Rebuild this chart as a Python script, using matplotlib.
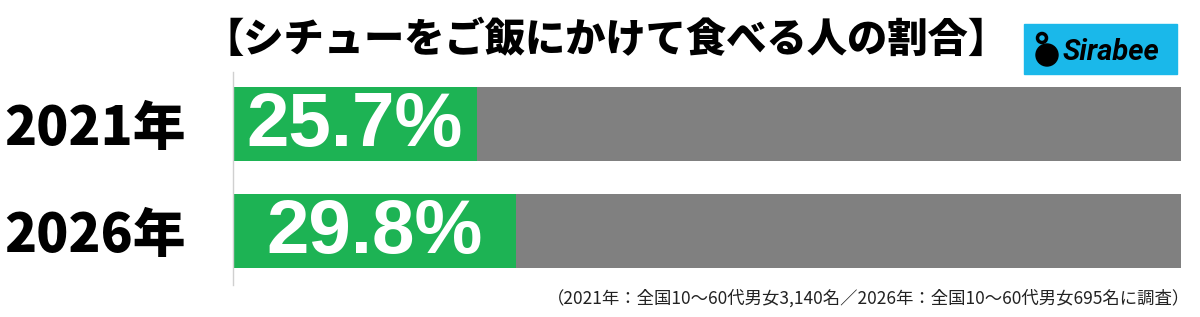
import matplotlib
matplotlib.use("Agg")
import matplotlib.pyplot as plt
from matplotlib.patches import Rectangle, Ellipse

years = ["2021年", "2026年"]
rates = [25.7, 29.8]
total = 100
title = "【シチューをご飯にかけて食べる人の割合】"
note = "（2021年：全国10〜60代男女3,140名／2026年：全国10〜60代男女695名に調査）"

green = "#1db354"
grey = "#808080"

W, H = 1200, 317
fig = plt.figure(figsize=(W / 100, H / 100), dpi=100)
jp = ["Noto Sans CJK JP", "DejaVu Sans"]

# axes placed in pixel units: left edge 233, right 1181, top 72, bottom 285
ax = fig.add_axes([233 / W, 1 - 285 / H, (1181 - 233) / W, (285 - 72) / H])
pos = list(range(len(years)))
ax.barh(pos, [total] * len(years), height=0.7, color=grey)
bars = ax.barh(pos, rates, height=0.7, color=green)
ax.set_xlim(0, total)
ax.set_ylim(1.505, -0.486)

for b, v in zip(bars, rates):
    ax.text(b.get_x() + b.get_width() / 2, b.get_y() + b.get_height() / 2 + 0.02,
            f"{v}%", ha="center", va="center", color="white",
            fontsize=55, fontweight="bold", family="Liberation Sans")

ax.set_yticks(pos)
ax.set_yticklabels(years, fontsize=38, fontweight="heavy", family=jp)
ax.tick_params(axis="y", length=0, pad=34)
ax.set_xticks([])
for s in ["top", "right", "bottom"]:
    ax.spines[s].set_visible(False)
ax.spines["left"].set_color("#d0d0d0")
ax.spines["left"].set_linewidth(1)

fig.text(203 / W, 1 - 40 / H, title, ha="left", va="center",
         fontsize=29, fontweight="heavy", family=jp)

fig.text(1190 / W, 1 - 298 / H, note, ha="right", va="center",
         fontsize=12.5, family=jp, color="#222222")

# Sirabee logo
def dot(x, y, r, **kw):
    fig.patches.append(Ellipse((x / W, 1 - y / H), 2 * r / W, 2 * r / H,
                               transform=fig.transFigure, zorder=4, **kw))

fig.patches.append(Rectangle((1024 / W, 1 - 74 / H), 153 / W, 50 / H,
                             transform=fig.transFigure, color="#1ab8ea", zorder=3))
dot(1047, 55, 11, color="black")
dot(1042, 38, 4.5, fill=False, ec="black", lw=2.5)
fig.text(1063 / W, 1 - 52 / H, "Sirabee", ha="left", va="center", fontsize=21,
         fontweight="bold", style="italic", family="Roboto", zorder=5)

fig.savefig("out.png", dpi=100, facecolor="white")
